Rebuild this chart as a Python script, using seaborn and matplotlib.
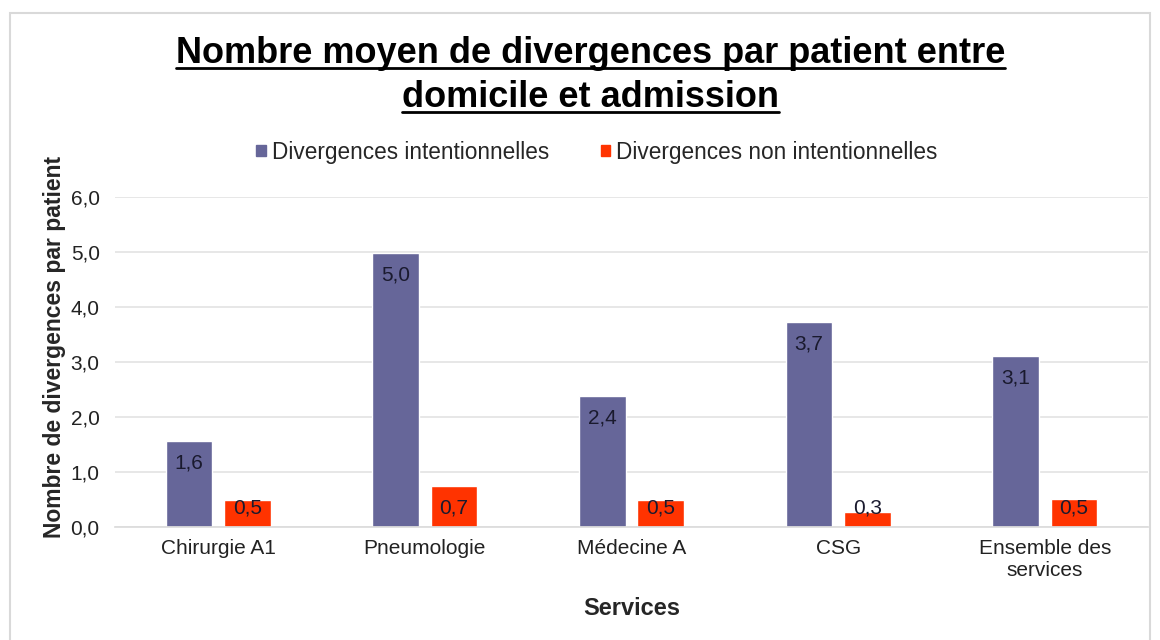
import pandas as pd
import matplotlib
matplotlib.use('Agg')
import matplotlib.pyplot as plt
from matplotlib.lines import Line2D
from matplotlib.patches import Rectangle
import seaborn as sns

# données
services = ['Chirurgie A1', 'Pneumologie', 'Médecine A', 'CSG', 'Ensemble des\nservices']
intentionnelles = [1.56, 4.99, 2.38, 3.73, 3.11]
non_intentionnelles = [0.49, 0.74, 0.50, 0.27, 0.51]
series = ['Divergences intentionnelles', 'Divergences non intentionnelles']
couleurs = ['#666699', '#FF3300']

df = pd.DataFrame({
    'service': services * 2,
    'valeur': intentionnelles + non_intentionnelles,
    'type': [series[0]] * len(services) + [series[1]] * len(services),
})

sns.set_theme(style='white')
plt.rcParams['font.family'] = ['Liberation Sans', 'DejaVu Sans']

fig = plt.figure(figsize=(11.6, 6.4), dpi=100)
ax = fig.add_axes([115 / 1160, 1 - 527 / 640, (1148 - 115) / 1160, (527 - 197) / 640])

sns.barplot(data=df, x='service', y='valeur', hue='type', palette=couleurs,
            width=0.565, gap=0.2, ax=ax, saturation=1)

ax.set_ylim(0, 6)
ax.set_yticks([0, 1, 2, 3, 4, 5, 6])
ax.set_yticklabels([f'{t:.1f}'.replace('.', ',') for t in range(7)], fontsize=15, color='#222222')
ax.tick_params(axis='x', labelsize=15, colors='#222222', length=0, pad=9)
ax.tick_params(axis='y', length=0, pad=11)
ax.grid(axis='y', color='#e3e3e3', linewidth=1.2)
ax.set_axisbelow(True)
for s in ['top', 'right', 'left']:
    ax.spines[s].set_visible(False)
ax.spines['bottom'].set_color('#dcdcdc')

ax.set_xlabel('Services', fontsize=17, fontweight='bold', labelpad=12)
ax.set_ylabel('Nombre de divergences par patient', fontsize=16.5, fontweight='bold')
ax.yaxis.set_label_coords(-0.047, 0.545)

# étiquettes de données (à l'intérieur, en haut de la barre)
for cont in ax.containers:
    for bar in cont:
        h = bar.get_height()
        y = max(h - 0.40, 0.345)
        ax.text(bar.get_x() + bar.get_width() / 2, y, f'{h:.1f}'.replace('.', ','),
                ha='center', va='center', fontsize=15, color='#1a1a2e')

# légende
handles = [Rectangle((0, 0), 1, 1, color=c) for c in couleurs]
ax.get_legend().remove()
fig.legend(handles, series, loc='center', bbox_to_anchor=(597 / 1160, 1 - 152 / 640), ncol=2,
           frameon=False, fontsize=16.3, handlelength=0.42, handleheight=0.42,
           handletextpad=0.25, columnspacing=2.3)

# titre souligné
lignes = ['Nombre moyen de divergences par patient entre', 'domicile et admission']
bases = [63, 107]
titres = []
for txt, b in zip(lignes, bases):
    t = fig.text(0.509, 1 - b / 640, txt, ha='center', va='baseline',
                 fontsize=26, fontweight='bold', color='black')
    titres.append(t)

fig.canvas.draw()
r = fig.canvas.get_renderer()
for t, b in zip(titres, bases):
    bb = t.get_window_extent(r)
    y = 1 - (b + 5) / 640
    fig.add_artist(Line2D([bb.x0 / 1160, bb.x1 / 1160], [y, y], color='black', linewidth=2))

# cadre du graphique
fig.add_artist(Rectangle((10 / 1160, -0.01), 1140 / 1160, 1 - 13 / 640 + 0.01,
                         transform=fig.transFigure, fill=False, edgecolor='#d9d9d9', linewidth=1.5))

fig.savefig('out.png', dpi=100)
